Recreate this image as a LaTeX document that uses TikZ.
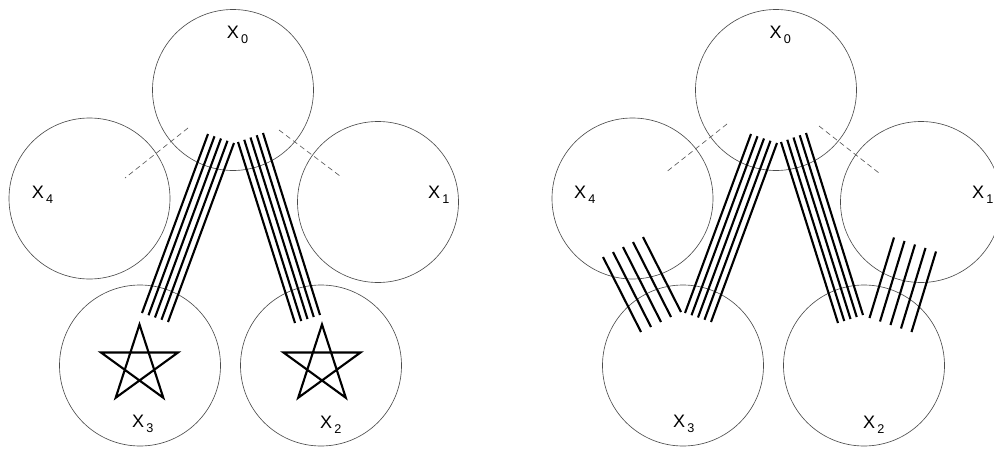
\documentclass[tikz,border=0pt]{standalone}
\usepackage{fontspec}
\setmainfont{Liberation Sans}
\newcommand{\xsub}[1]{X\kern1.8pt\raisebox{-4.3pt}{\fontsize{10.8}{12}\selectfont #1}}

\begin{document}
\begin{tikzpicture}[x=0.03cm,y=-0.03cm,
  xcirc/.style={circle,draw=black!70,line width=0.55pt,minimum size=4.83cm,inner sep=0pt},
  xlab/.style={anchor=base west,inner sep=0pt,font=\fontsize{15.4}{18}\selectfont},
  wire/.style={line width=1.8pt},
  guide/.style={draw=black!65,line width=0.55pt,dash pattern=on 4.5pt off 3pt},
  pent/.style={line width=1.8pt,line join=miter}]
\useasboundingbox (0,0) rectangle (994,449);
% left picture: five regions
\node[xcirc] (l0) at (233,90) {};
\node[xcirc] (l1) at (378,202) {};
\node[xcirc] (l2) at (321,365.5) {};
\node[xcirc] (l3) at (140,365.5) {};
\node[xcirc] (l4) at (89.5,198.5) {};
\node[xlab] (l0t) at (226.7,38) {\xsub{0}};
\node[xlab] (l1t) at (428,198) {\xsub{1}};
\node[xlab] (l2t) at (320,428) {\xsub{2}};
\node[xlab] (l3t) at (132,427) {\xsub{3}};
\node[xlab] (l4t) at (31.7,198) {\xsub{4}};
\draw[guide] (188,128) -- (125,178);
\draw[guide] (279,130) -- (340,176);
% bundle X0 -> X3
\draw[wire] (208,134) -- (142,313) (214.5,136.25) -- (148.5,315.25) (221,138.5) -- (155,317.5)
  (227.5,140.75) -- (161.5,319.75) (234,143) -- (168,322);
% bundle X0 -> X2
\draw[wire] (238,142) -- (295,323) (244.25,139.75) -- (301.25,321) (250.5,137.5) -- (307.5,319)
  (256.75,135.25) -- (313.75,317) (263,133) -- (320,315);
% stars in X3 and X2
\draw[pent,shift={(139.5,365)}] (270:40.5) -- (126:40.5) -- (342:40.5) -- (198:40.5) -- (54:40.5) -- cycle;
\draw[pent,shift={(322,365)}] (270:40.5) -- (126:40.5) -- (342:40.5) -- (198:40.5) -- (54:40.5) -- cycle;
% right picture: same regions, shifted
\node[xcirc] (r0) at (776,90) {};
\node[xcirc] (r1) at (921,202) {};
\node[xcirc] (r2) at (864,365.5) {};
\node[xcirc] (r3) at (683,365.5) {};
\node[xcirc] (r4) at (632.5,198.5) {};
\node[xlab] (r0t) at (769.5,38) {\xsub{0}};
\node[xlab] (r1t) at (972,198) {\xsub{1}};
\node[xlab] (r2t) at (863,428) {\xsub{2}};
\node[xlab] (r3t) at (673,427) {\xsub{3}};
\node[xlab] (r4t) at (574,198) {\xsub{4}};
\draw[guide] (727,124) -- (665,173);
\draw[guide] (819,126) -- (879,173);
\begin{scope}[shift={(543,0)}]
\draw[wire] (208,134) -- (142,313) (214.5,136.25) -- (148.5,315.25) (221,138.5) -- (155,317.5)
  (227.5,140.75) -- (161.5,319.75) (234,143) -- (168,322);
\draw[wire] (238,142) -- (295,323) (244.25,139.75) -- (301.25,321) (250.5,137.5) -- (307.5,319)
  (256.75,135.25) -- (313.75,317) (263,133) -- (320,315);
\end{scope}
% short bundles across X4/X3 and X1/X2
\draw[wire] (603,257) -- (641,332) (613,252) -- (651,327) (623,247) -- (661,322)
  (633,242) -- (671,317) (643,237) -- (681,312);
\draw[wire] (894,237.5) -- (869.5,318) (904.5,241) -- (880,321.5) (915,244.5) -- (890.5,325)
  (925.5,248) -- (901,328.5) (936,251.5) -- (911.5,332);
\end{tikzpicture}
\end{document}
